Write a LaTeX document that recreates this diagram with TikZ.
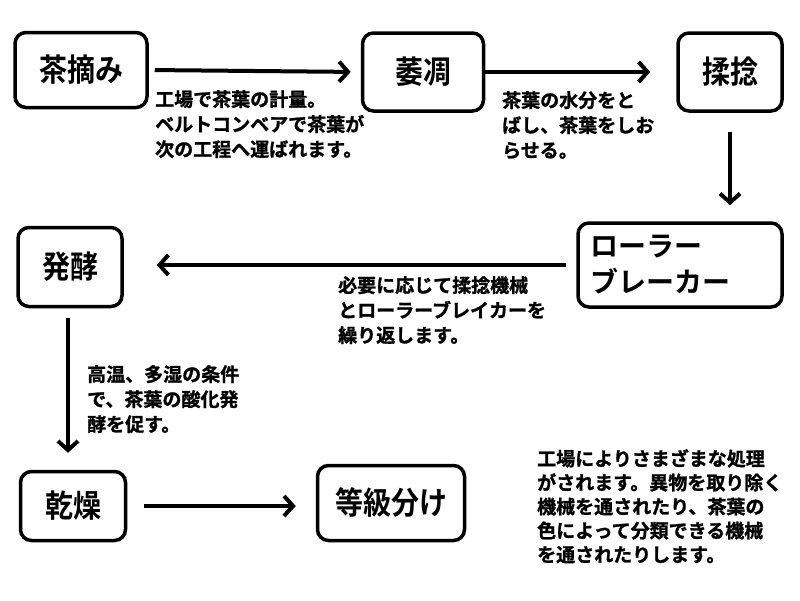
\documentclass[tikz,border=0pt]{standalone}
\usepackage{fontspec}
\setmainfont{Noto Sans CJK JP}[BoldFont={Noto Sans CJK JP Bold},BoldFeatures={FakeBold=1.2}]
\newfontfamily\labelfont{Noto Sans CJK JP Bold}
\usetikzlibrary{arrows.meta}
\begin{document}
\begin{tikzpicture}[x=1pt,y=-1pt,
  box/.style={draw,line width=3.5pt,rounded corners=11pt,inner sep=0pt,font=\labelfont\fontsize{28}{34}\selectfont},
  desc/.style={anchor=north west,align=left,inner sep=0pt,font=\bfseries\fontsize{19}{25}\selectfont},
  flow/.style={line width=4pt,-{Straight Barb[length=9pt,width=20pt,line width=4pt]}}]
\useasboundingbox (0,0) rectangle (800,600);
\fill[white] (0,0) rectangle (800,600);
% boxes
\node[box,minimum width=132pt,minimum height=75pt] (cha) at (81,70) {\scalebox{1}[1.12]{茶摘み}};
\node[box,minimum width=121pt,minimum height=78pt] (ichou) at (423,72) {\scalebox{1}[1.12]{萎凋}};
\node[box,minimum width=104pt,minimum height=78pt] (jyu) at (730,72) {\scalebox{1}[1.12]{揉捻}};
\node[box,minimum width=204pt,minimum height=84pt,align=left,text width=180pt,font=\labelfont\fontsize{28}{36}\selectfont] (roller) at (680,265) {ローラー\\ブレーカー};
\node[box,minimum width=104pt,minimum height=79pt] (hakko) at (70,267) {\scalebox{1}[1.12]{発酵}};
\node[box,minimum width=105pt,minimum height=69pt] (kanso) at (73,506) {\scalebox{1}[1.12]{乾燥}};
\node[box,minimum width=147pt,minimum height=75pt] (toukyu) at (391,503) {\scalebox{1}[1.12]{等級分け}};
% connectors
\draw[flow,shorten <=6pt,shorten >=10pt] (cha.east) -- (ichou.west);
\draw[flow,shorten <=0pt,shorten >=26pt] (ichou.east) -- (jyu.west);
\draw[flow,shorten <=19pt,shorten >=16pt] (jyu.south) -- (jyu.south |- roller.north);
\draw[flow,shorten <=10pt,shorten >=33pt] (roller.west) -- (roller.west -| hakko.east);
\draw[flow,shorten <=10pt,shorten >=17pt] ([xshift=-2pt]hakko.south) -- ([xshift=-2pt]hakko.south |- kanso.north);
\draw[flow,shorten <=17pt,shorten >=20pt] (kanso.east) -- (kanso.east -| toukyu.west);
% descriptions
\node[desc] (d1) at (155,90) {工場で茶葉の計量。\\ベルトコンベアで茶葉が\\次の工程へ運ばれます。};
\node[desc] (d2) at (502,91) {茶葉の水分をと\\ばし、茶葉をしお\\らせる。};
\node[desc] (d3) at (338,276) {必要に応じて揉捻機械\\とローラーブレイカーを\\繰り返します。};
\node[desc] (d4) at (87,365) {高温、多湿の条件\\で、茶葉の酸化発\\酵を促す。};
\node[desc,font=\bfseries\fontsize{19}{24}\selectfont] (d5) at (537,449) {工場によりさまざまな処理\\がされます。異物を取り除く\\機械を通されたり、茶葉の\\色によって分類できる機械\\を通されたりします。};
\end{tikzpicture}
\end{document}
